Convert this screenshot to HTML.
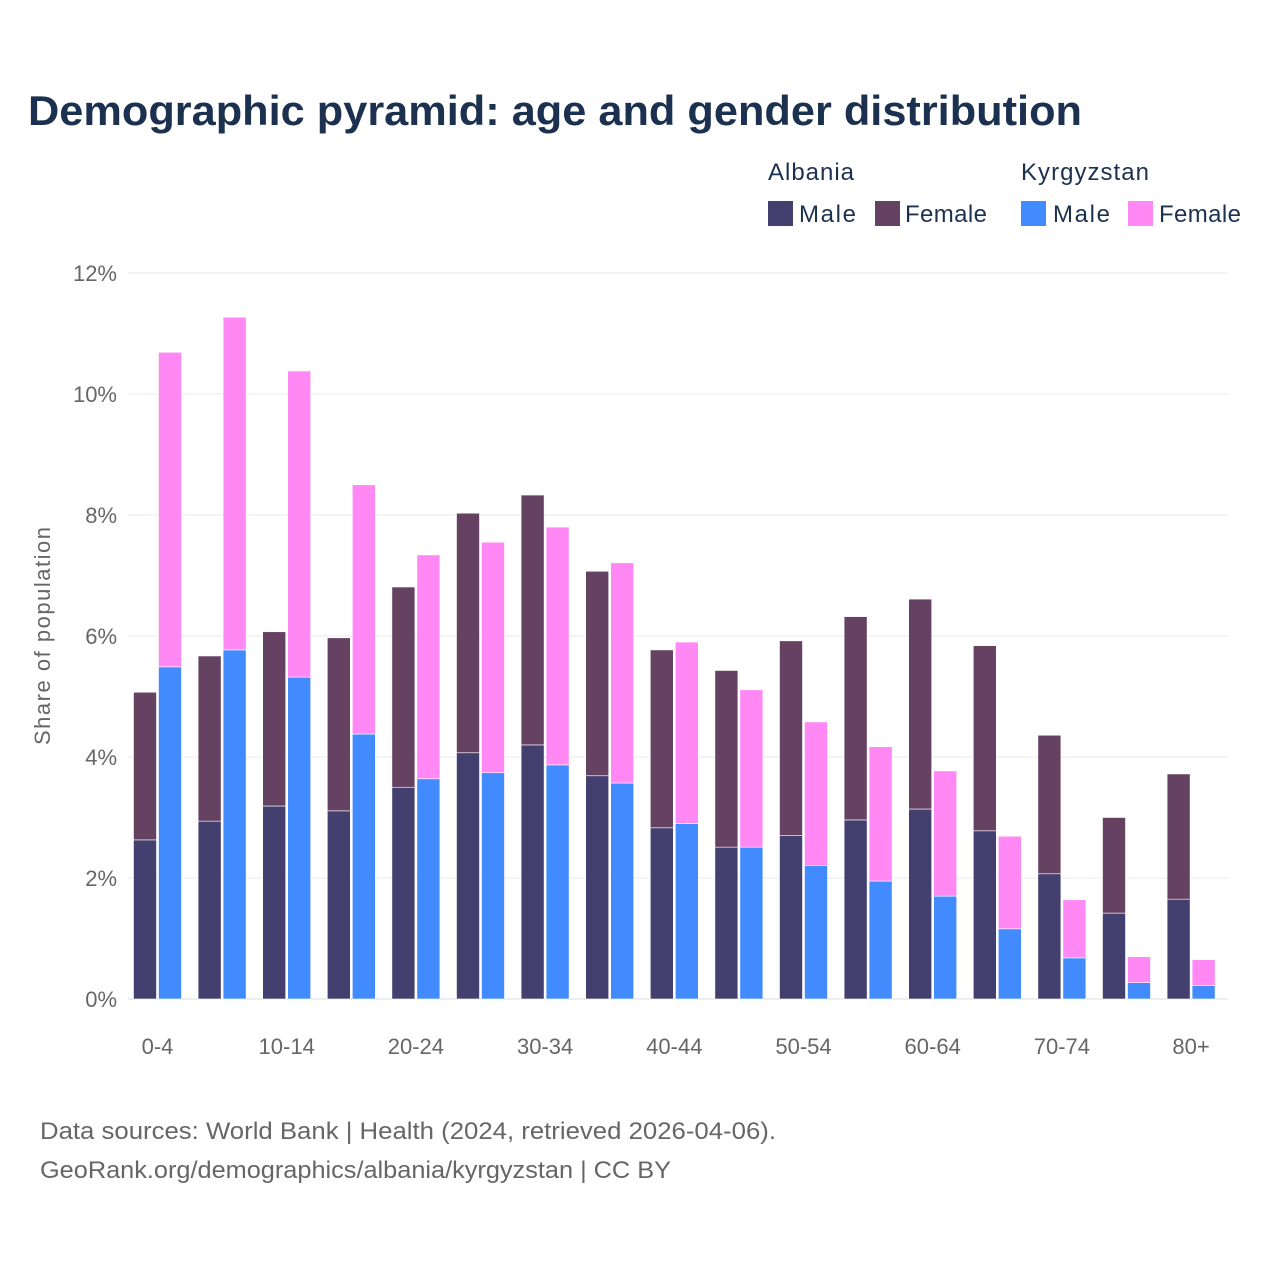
<!DOCTYPE html>
<html><head><meta charset="utf-8"><style>
body{margin:0;background:#fff;font-family:"Liberation Sans",sans-serif;}
#wrap{position:relative;width:1280px;height:1280px;}
</style></head><body>
<div id="wrap">
<svg id="chart" width="1280" height="1280" xmlns="http://www.w3.org/2000/svg">
<text x="28" y="125" font-size="42" font-weight="bold" fill="#1c3150" textLength="1054" lengthAdjust="spacingAndGlyphs" font-family="Liberation Sans, sans-serif">Demographic pyramid: age and gender distribution</text>
<g font-size="24" fill="#1c3150">
<text x="768" y="180" fill="#1c3150" textLength="86">Albania</text>
<text x="1021" y="180" fill="#1c3150" textLength="128">Kyrgyzstan</text>
<rect x="768" y="201" width="25" height="25" fill="#433f6f"/>
<text x="799" y="222" fill="#1c3150" textLength="57">Male</text>
<rect x="875" y="201" width="25" height="25" fill="#664262"/>
<text x="905" y="222" fill="#1c3150" textLength="82">Female</text>
<rect x="1021" y="201" width="25" height="25" fill="#418bff"/>
<text x="1053" y="222" fill="#1c3150" textLength="57">Male</text>
<rect x="1128" y="201" width="25" height="25" fill="#ff88f5"/>
<text x="1159" y="222" fill="#1c3150" textLength="82">Female</text>
</g>
<g id="grid"></g>
<g id="bars"></g>
<g id="xlabels"></g>
<text transform="translate(50,636) rotate(-90)" text-anchor="middle" font-size="22" fill="#666" textLength="218">Share of population</text>
<text x="40" y="1139" font-size="24" fill="#666" textLength="736" lengthAdjust="spacingAndGlyphs">Data sources: World Bank | Health (2024, retrieved 2026-04-06).</text>
<text x="40" y="1178" font-size="24" fill="#666" textLength="631" lengthAdjust="spacingAndGlyphs">GeoRank.org/demographics/albania/kyrgyzstan | CC BY</text>
</svg>
</div>
<script>
const categories=["0-4","5-9","10-14","15-19","20-24","25-29","30-34","35-39","40-44","45-49","50-54","55-59","60-64","65-69","70-74","75-79","80+"];
const albaniaMale=[2.63,2.94,3.19,3.11,3.50,4.07,4.20,3.69,2.83,2.51,2.70,2.96,3.14,2.78,2.07,1.42,1.65];
const albaniaFemale=[2.44,2.73,2.88,2.86,3.31,3.96,4.13,3.38,2.94,2.92,3.22,3.36,3.47,3.06,2.29,1.58,2.07];
const kyrgyzMale=[5.49,5.77,5.32,4.38,3.64,3.74,3.87,3.57,2.90,2.51,2.21,1.95,1.70,1.16,0.68,0.27,0.22];
const kyrgyzFemale=[5.20,5.50,5.06,4.12,3.70,3.81,3.93,3.64,3.00,2.60,2.37,2.22,2.07,1.53,0.96,0.43,0.43];
const yTicks=[0,2,4,6,8,10,12];
const tickLabels=["0%","2%","4%","6%","8%","10%","12%"];
const NS="http://www.w3.org/2000/svg";
const x0=128,x1=1228,y0=999,y1=273,yMax=12;
const band=64.6;
function yS(v){return y0-(v/yMax)*(y0-y1);}
function xS(i){return 157.5+band*i;}
function mk(t,a,p){const e=document.createElementNS(NS,t);for(const k in a)e.setAttribute(k,a[k]);p.appendChild(e);return e;}
const grid=document.getElementById('grid'),bars=document.getElementById('bars'),xl=document.getElementById('xlabels');
yTicks.forEach((t,i)=>{
 const l=mk('line',{x1:x0,x2:x1,y1:yS(t),y2:yS(t),stroke:i===0?'#ddd':'#e8e8e8','stroke-width':1},grid);
 
 
 const tx=mk('text',{x:117,y:yS(t)+8,'text-anchor':'end','font-size':22,fill:'#666'},grid);
 tx.textContent=tickLabels[i];
 
 
});
const bw=23;
categories.forEach((c,i)=>{
 const cx=xS(i);
 const specs=[[cx-bw-1,albaniaMale[i],albaniaFemale[i],'#433f6f','#664262','albania'],[cx+1,kyrgyzMale[i],kyrgyzFemale[i],'#418bff','#ff88f5','kyrgyzstan']];
 specs.forEach(s=>{
  const m=mk('rect',{x:s[0],y:yS(s[1]),width:bw,height:y0-yS(s[1]),fill:s[3],stroke:'#fff','stroke-width':0.6},bars);
  
  
  const f=mk('rect',{x:s[0],y:yS(s[1]+s[2]),width:bw,height:yS(s[1])-yS(s[1]+s[2]),fill:s[4],stroke:'#fff','stroke-width':0.6},bars);
  
  
 });
 if(i%2===0){
  const t=mk('text',{x:cx,y:1054,'text-anchor':'middle','font-size':22,fill:'#666'},xl);
  t.textContent=c;
  
  
 }
});
</script>
</body></html>
